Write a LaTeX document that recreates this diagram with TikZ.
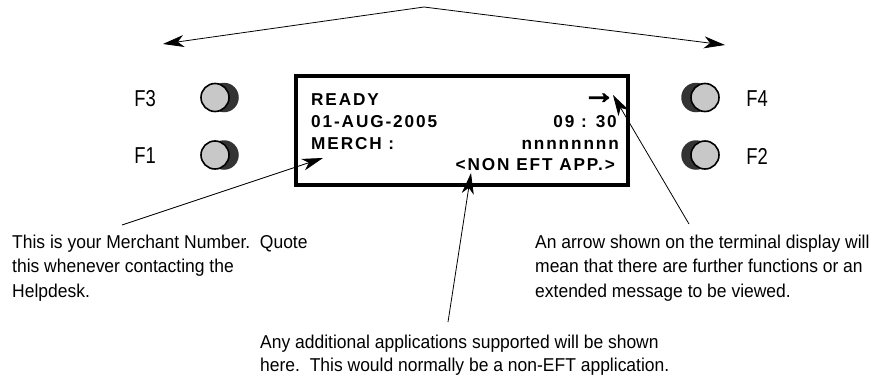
\documentclass[tikz,border=0pt]{standalone}
\usepackage{fontspec}
\setmainfont{Liberation Sans}
\newfontfamily\narrowfont[FakeStretch=0.94]{Liberation Sans}
\newfontfamily\fkeyfont[FakeStretch=0.8]{Liberation Sans}
\newfontfamily\lcdfont[LetterSpace=11]{Liberation Sans}
\newfontfamily\arrowfont[FakeBold=4]{Liberation Sans}
\usetikzlibrary{arrows.meta}
\definecolor{btngray}{HTML}{C8C8C8}
\definecolor{shadowgray}{HTML}{333333}
\begin{document}
\begin{tikzpicture}[x=1pt,y=-1pt,
  lbl/.style={font=\narrowfont\fontsize{18.6}{24.4}\selectfont, align=left, inner sep=0pt, anchor=base west},
  fkey/.style={font=\fkeyfont\fontsize{23}{26}\selectfont, inner sep=0pt},
  lcdtxt/.style={font=\lcdfont\bfseries\fontsize{17.2}{20}\selectfont, inner sep=0pt},
  btn/.style={circle, draw=black, line width=1.6pt, fill=btngray, minimum size=28pt, inner sep=0pt},
  btnshadow/.style={circle, fill=shadowgray, minimum size=29.5pt, inner sep=0pt},
  ptr/.style={line width=0.8pt, -{Stealth[length=21pt,width=12pt,inset=6pt]}},
]
\useasboundingbox (0,0) rectangle (875,375);

% top double arrow
\coordinate (apex) at (424,7);
\coordinate (ltip) at (163,44);
\coordinate (rtip) at (725,45);
\draw[ptr] (apex) -- (ltip);
\draw[ptr] (apex) -- (rtip);

% function keys
\node[btnshadow] (f3s) at (224,97.5) {};
\node[btn] (f3b) at (215,97.5) {};
\node[btnshadow] (f1s) at (224,155) {};
\node[btn] (f1b) at (215,155) {};
\node[btnshadow] (f4s) at (696,97.5) {};
\node[btn] (f4b) at (705,97.5) {};
\node[btnshadow] (f2s) at (696,155) {};
\node[btn] (f2b) at (705,155) {};
\node[fkey] (f3l) at (145,99) {F3};
\node[fkey] (f1l) at (145,156) {F1};
\node[fkey] (f4l) at (757,99) {F4};
\node[fkey] (f2l) at (757,156) {F2};

% display
\node[draw, line width=4pt, minimum width=332pt, minimum height=109pt, inner sep=0pt] (lcd) at (462,130.5) {};
\node[lcdtxt, anchor=base west] (ready) at (311,105) {READY};
\node[lcdtxt, anchor=base west] (date) at (311,127) {01-AUG-2005};
\node[lcdtxt, anchor=base west] (merch) at (311,149) {MERCH :};
\node[font=\arrowfont\bfseries\fontsize{32}{34}\selectfont, inner sep=0pt] (arw) at (599,98.5) {→};
\node[lcdtxt, anchor=base east] (time) at (617,127) {09 : 30};
\node[lcdtxt, anchor=base east] (nnn) at (619,149) {nnnnnnnn};
\node[lcdtxt, anchor=base east] (app) at (615,170) {<NON EFT APP.>};

% explanatory texts (anchored at the baseline of their last line)
\node[lbl] (mtext) at (12,297) {This is your Merchant Number.\ \ Quote\\this whenever contacting the\\Helpdesk.};
\node[lbl] (atext) at (535,297) {An arrow shown on the terminal display will\\mean that there are further functions or an\\extended message to be viewed.};
\node[lbl, font=\narrowfont\fontsize{18.6}{23}\selectfont] (ntext) at (260,371) {Any additional applications supported will be shown\\here.\ \ This would normally be a non-EFT application.};

% pointers
\coordinate (mstart) at (122,225);
\coordinate (mtip) at (323,158);
\draw[ptr] (mstart) -- (mtip);
\coordinate (astart) at (689,224);
\coordinate (atip) at (613,95);
\draw[ptr] (astart) -- (atip);
\coordinate (nstart) at (448,322);
\coordinate (ntip) at (471,173);
\draw[ptr] (nstart) -- (ntip);
\end{tikzpicture}
\end{document}
